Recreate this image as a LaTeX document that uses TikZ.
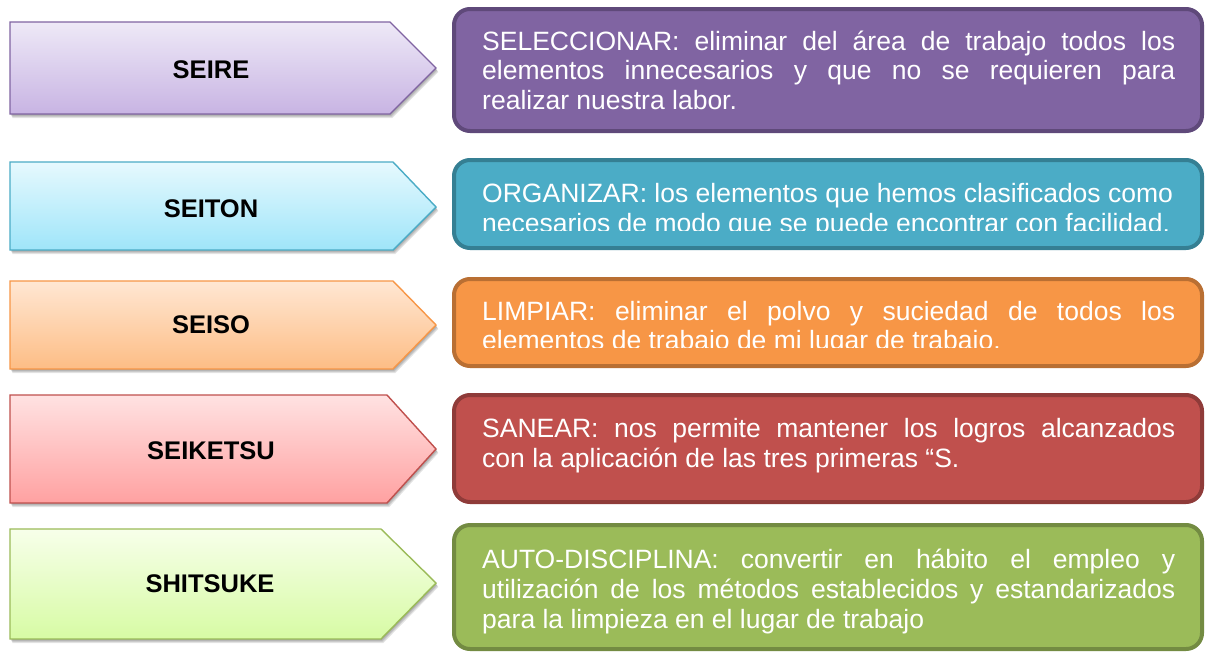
\documentclass[tikz,border=0pt]{standalone}
\usepackage{fontspec}
\setmainfont{Liberation Sans}
\definecolor{pBase}{HTML}{8064A2}\definecolor{pDark}{HTML}{5F497A}
\definecolor{pTop}{HTML}{EEE9F7}\definecolor{pBot}{HTML}{C8B4E3}
\definecolor{tBase}{HTML}{4BACC6}\definecolor{tDark}{HTML}{357F93}
\definecolor{tTop}{HTML}{E6F9FE}\definecolor{tBot}{HTML}{9FE5F9}
\definecolor{oBase}{HTML}{F79646}\definecolor{oDark}{HTML}{B96F33}
\definecolor{oTop}{HTML}{FFE7D3}\definecolor{oBot}{HTML}{FDBD85}
\definecolor{rBase}{HTML}{C0504D}\definecolor{rDark}{HTML}{8F3B39}
\definecolor{rTop}{HTML}{FFE2E2}\definecolor{rBot}{HTML}{FFA1A1}
\definecolor{gBase}{HTML}{9BBB59}\definecolor{gDark}{HTML}{738B42}
\definecolor{gTop}{HTML}{F7FFEA}\definecolor{gBot}{HTML}{D7FBA4}
\tikzset{
  lab/.style={font=\fontsize{25.5}{30}\selectfont\bfseries, text=black, inner sep=0pt},
  desc/.style={font=\fontsize{26.5}{29.5}\selectfont, text=white, inner sep=0pt, anchor=base west},
  box/.style={line width=4pt, rounded corners=16pt},
  arrowshape/.style={line width=1.4pt},
  shadowfill/.style={fill=black, opacity=0.10},
}
\newcommand\jline[1]{\makebox[693pt][s]{#1}}
\newcommand\fivearrow[6]{% top, bottom, tipstart, tipy, topcolor/botcolor via #5 #6
  \foreach \s in {1,2,3,4}{
    \fill[shadowfill] (10+\s*0.6,#1+\s) -- (#3+\s*0.6,#1+\s) -- (436+\s*0.6,#4+\s) -- (#3+\s*0.6,#2+\s) -- (10+\s*0.6,#2+\s) -- cycle;
  }
  \path[arrowshape, draw=#5Base, top color=#5Top, bottom color=#5Bot] (10,#1) -- (#3,#1) -- (436,#4) -- (#3,#2) -- (10,#2) -- cycle;
}
\begin{document}
\begin{tikzpicture}[x=1pt,y=-1pt]
\useasboundingbox (0,0) rectangle (1206,653);
\fill[white] (0,0) rectangle (1206,653);

% ---- arrows ----
\fivearrow{22}{114}{390}{68}{p}{}
\fivearrow{162}{250}{393}{207}{t}{}
\fivearrow{281}{369}{393}{325}{o}{}
\fivearrow{395}{503}{387}{449}{r}{}
\fivearrow{529}{639}{381}{583}{g}{}

\node[lab] (seire) at (211,70) {SEIRE};
\node[lab] (seiton) at (211,208.5) {SEITON};
\node[lab] (seiso) at (211,325) {SEISO};
\node[lab] (seiketsu) at (211,451) {SEIKETSU};
\node[lab] (shitsuke) at (210,584) {SHITSUKE};

% ---- boxes ----
\draw[box, draw=pDark, fill=pBase] (454,9) rectangle (1202,131);
\draw[box, draw=tDark, fill=tBase] (454,160) rectangle (1202,248);
\draw[box, draw=oDark, fill=oBase] (454,279) rectangle (1202,366);
\draw[box, draw=rDark, fill=rBase] (454,395) rectangle (1202,502);
\draw[box, draw=gDark, fill=gBase] (454,525) rectangle (1202,649);

% purple text
\node[desc] (p1) at (482,50) {\jline{SELECCIONAR: eliminar del área de trabajo todos los}};
\node[desc] (p2) at (482,79.5) {\jline{elementos innecesarios y que no se requieren para}};
\node[desc] (p3) at (482,109) {realizar nuestra labor.};

% teal text (second line clipped)
\begin{scope}
\clip (460,165) rectangle (1196,230);
\node[desc] (t1) at (482,202) {ORGANIZAR: los elementos que hemos clasificados como};
\node[desc] (t2) at (482,232) {necesarios de modo que se puede encontrar con facilidad.};
\end{scope}

% orange text (second line clipped)
\begin{scope}
\clip (460,284) rectangle (1196,347);
\node[desc] (o1) at (482,320) {\jline{LIMPIAR: eliminar el polvo y suciedad de todos los}};
\node[desc] (o2) at (482,349) {elementos de trabajo de mi lugar de trabajo.};
\end{scope}

% red text
\node[desc] (r1) at (482,437) {\jline{SANEAR: nos permite mantener los logros alcanzados}};
\node[desc] (r2) at (482,467) {con la aplicación de las tres primeras “S.};

% green text
\node[desc] (g1) at (482,568) {\jline{AUTO-DISCIPLINA: convertir en hábito el empleo y}};
\node[desc] (g2) at (482,598) {\jline{utilización de los métodos establecidos y estandarizados}};
\node[desc] (g3) at (482,628) {para la limpieza en el lugar de trabajo};
\end{tikzpicture}
\end{document}
